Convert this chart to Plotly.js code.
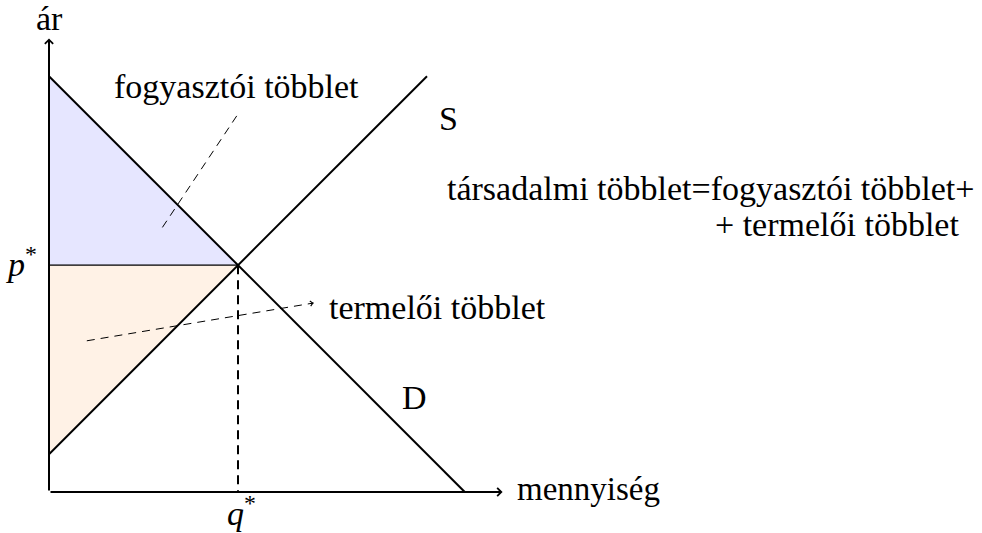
<!DOCTYPE html>
<html>
<head>
<meta charset="utf-8">
<script src="https://cdn.plot.ly/plotly-3.0.1.min.js"></script>
<style>html,body{margin:0;padding:0;background:#fff;}</style>
</head>
<body>
<div id="chart" style="width:982px;height:533px;"></div>
<script>
// ---- data (model units) ----
const demandQ = [0, 5.5];
const demandP = [5.5, 0];
const supplyQ = [0, 5];
const supplyP = [0.5, 5.5];
const eqQ = 2.5;
const eqP = 3;
const axisMax = 6;
const consumerArrowQ = [1.5, 2.5];
const consumerArrowP = [3.5, 5];
const producerArrowQ = [0.5, 3.5];
const producerArrowP = [2, 2.5];
const labels = {
  yAxis: 'ár', xAxis: 'mennyiség', supply: 'S', demand: 'D',
  consumer: 'fogyasztói többlet', producer: 'termelői többlet',
  total1: 'társadalmi többlet=fogyasztói többlet+', total2: '+ termelői többlet',
  p: '<i>p</i><sup>*</sup>', q: '<i>q</i><sup>*</sup>'
};

// ---- scale: pixels per unit, origin in pixels ----
const S = 75.6, OX = 49, OY = 492, W = 982, H = 533;
const px = v => (v - OX) / S;
const py = v => (OY - v) / S;

const FAM = 'Liberation Serif, Times New Roman, serif';
const FONT = {family: FAM, size: 34, color: '#000'};
const FONT_S = {family: FAM, size: 33, color: '#000'};

const traces = [
  {x: [0, 0, eqQ, 0], y: [demandP[0], eqP, eqP, demandP[0]], fill: 'toself', fillcolor: '#e6e6ff',
   mode: 'lines', line: {color: '#000', width: 1}, hoverinfo: 'skip'},
  {x: [0, 0, eqQ, 0], y: [eqP, supplyP[0], eqP, eqP], fill: 'toself', fillcolor: '#fff2e6',
   mode: 'lines', line: {color: '#000', width: 1}, hoverinfo: 'skip'},
  {x: demandQ, y: demandP, mode: 'lines', line: {color: '#000', width: 2}, hoverinfo: 'skip'},
  {x: supplyQ, y: supplyP, mode: 'lines', line: {color: '#000', width: 2}, hoverinfo: 'skip'},
  {x: [eqQ, eqQ], y: [eqP, 0], mode: 'lines', line: {color: '#000', width: 2, dash: '9px,6px'}, hoverinfo: 'skip'},
  {x: consumerArrowQ, y: consumerArrowP, mode: 'lines', line: {color: '#000', width: 1, dash: '8px,6px'}, hoverinfo: 'skip'},
  {x: producerArrowQ, y: producerArrowP, mode: 'lines', line: {color: '#000', width: 1, dash: '8px,6px'}, hoverinfo: 'skip'}
];

function head(x0, y0, x1, y1, width, size) {
  const f = 0.02;
  return {x: x1, y: y1, ax: x1 - (x1 - x0) * f, ay: y1 - (y1 - y0) * f, xref: 'x', yref: 'y', axref: 'x', ayref: 'y',
    text: '', showarrow: true, arrowhead: 4, arrowsize: size, arrowwidth: width, arrowcolor: '#000', standoff: 0};
}

const annotations = [
  // axes
  {x: axisMax, y: 0, ax: 0, ay: 0, xref: 'x', yref: 'y', axref: 'x', ayref: 'y', text: '', showarrow: true,
   arrowhead: 4, arrowsize: 0.8, arrowwidth: 2, arrowcolor: '#000', standoff: 0},
  {x: 0, y: axisMax, ax: 0, ay: 0, xref: 'x', yref: 'y', axref: 'x', ayref: 'y', text: '', showarrow: true,
   arrowhead: 4, arrowsize: 0.8, arrowwidth: 2, arrowcolor: '#000', standoff: 0},
  head(consumerArrowQ[0], consumerArrowP[0], consumerArrowQ[1], consumerArrowP[1], 1, 1),
  head(producerArrowQ[0], producerArrowP[0], producerArrowQ[1], producerArrowP[1], 1, 1),
  // labels
  {x: px(49.5), y: py(18), text: labels.yAxis, showarrow: false, xanchor: 'center', yanchor: 'middle', font: FONT},
  {x: px(515), y: py(489), text: labels.xAxis, showarrow: false, xanchor: 'left', yanchor: 'middle', font: FONT_S},
  {x: px(448), y: py(118), text: labels.supply, showarrow: false, xanchor: 'center', yanchor: 'middle', font: FONT},
  {x: px(414), y: py(397), text: labels.demand, showarrow: false, xanchor: 'center', yanchor: 'middle', font: FONT},
  {x: px(236), y: py(86), text: labels.consumer, showarrow: false, xanchor: 'center', yanchor: 'middle', font: FONT},
  {x: px(327), y: py(307), text: labels.producer, showarrow: false, xanchor: 'left', yanchor: 'middle', font: FONT},
  {x: px(710), y: py(188), text: labels.total1, showarrow: false, xanchor: 'center', yanchor: 'middle', font: FONT},
  {x: px(837), y: py(224), text: labels.total2, showarrow: false, xanchor: 'center', yanchor: 'middle', font: FONT},
  {x: px(39), y: py(262), text: labels.p, showarrow: false, xanchor: 'right', yanchor: 'middle', font: FONT},
  {x: px(241), y: py(511), text: labels.q, showarrow: false, xanchor: 'center', yanchor: 'middle', font: FONT}
];

const layout = {
  width: W, height: H, margin: {l: 0, r: 0, t: 0, b: 0, pad: 0},
  paper_bgcolor: '#fff', plot_bgcolor: '#fff', showlegend: false,
  xaxis: {range: [px(0), px(W)], visible: false, fixedrange: true},
  yaxis: {range: [py(H), py(0)], visible: false, fixedrange: true},
  annotations: annotations
};

Plotly.newPlot('chart', traces, layout, {staticPlot: true, displayModeBar: false});
</script>
</body>
</html>
